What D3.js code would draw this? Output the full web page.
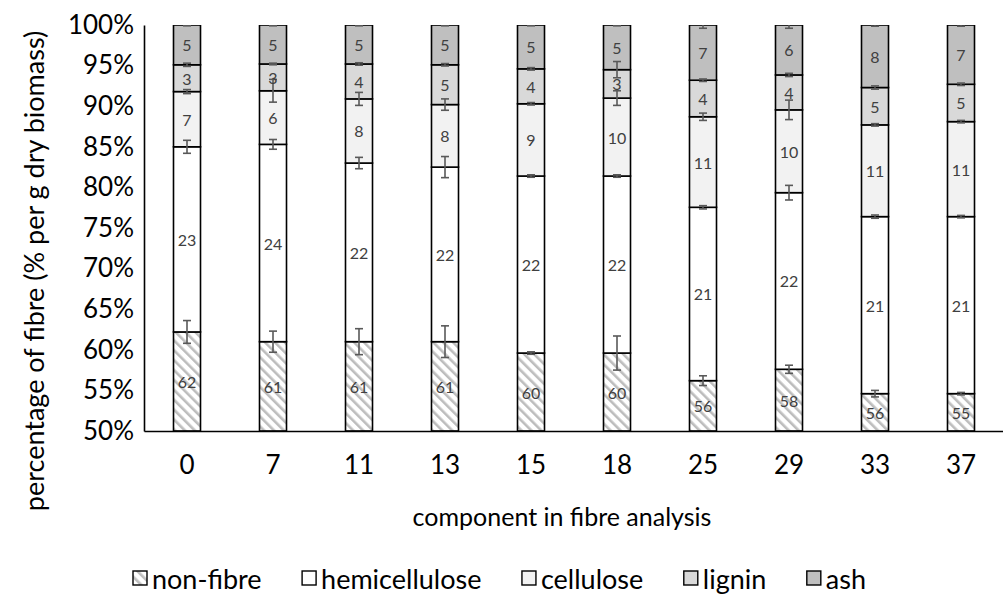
<!DOCTYPE html>
<html>
<head>
<meta charset="utf-8">
<script src="https://cdn.jsdelivr.net/npm/d3@7"></script>
<style>
  html, body { margin: 0; padding: 0; background: #fff; }
  svg { display: block; font-family: Lato, "Open Sans", sans-serif; }
</style>
</head>
<body>
<svg id="chart" width="1003" height="596"></svg>
<script>
// ---- data ----
const categories = ["0", "7", "11", "13", "15", "18", "25", "29", "33", "37"];
const seriesNames = ["non-fibre", "hemicellulose", "cellulose", "lignin", "ash"];

const nonFibre      = [62.2, 61.0, 61.0, 61.0, 59.6, 59.6, 56.2, 57.6, 54.6, 54.6];
const hemicellulose = [22.8, 24.3, 22.0, 21.5, 21.8, 21.8, 21.35, 21.75, 21.8, 21.8];
const cellulose     = [6.8, 6.6, 7.9, 7.7, 8.9, 9.6, 11.15, 10.2, 11.3, 11.7];
const lignin        = [3.3, 3.3, 4.3, 4.9, 4.3, 3.5, 4.5, 4.3, 4.6, 4.6];
const ash           = [4.9, 4.8, 4.8, 4.9, 5.4, 5.5, 6.8, 6.15, 7.7, 7.3];

const nonFibreLabels      = ["62", "61", "61", "61", "60", "60", "56", "58", "56", "55"];
const hemicelluloseLabels = ["23", "24", "22", "22", "22", "22", "21", "22", "21", "21"];
const celluloseLabels     = ["7", "6", "8", "8", "9", "10", "11", "10", "11", "11"];
const ligninLabels        = ["3", "3", "4", "5", "4", "3", "4", "4", "5", "5"];
const ashLabels           = ["5", "5", "5", "5", "5", "5", "7", "6", "8", "7"];

const nonFibreErr      = [1.4, 1.3, 1.6, 1.95, 0.15, 2.1, 0.6, 0.5, 0.4, 0.15];
const hemicelluloseErr = [0.8, 0.6, 0.7, 1.3, 0.15, 0.15, 0.2, 0.9, 0.2, 0.15];
const celluloseErr     = [0.25, 1.4, 0.8, 0.7, 0.15, 0.9, 0.45, 1.2, 0.15, 0.15];
const ligninErr        = [0.2, 0.1, 0.15, 0.15, 0.15, 1.0, 0.15, 0.2, 0.2, 0.15];
const ashErr           = [0.1, 0.1, 0.1, 0.1, 0.1, 0.1, 0.4, 0.4, 0.15, 0.15];

const yTicks = [50, 55, 60, 65, 70, 75, 80, 85, 90, 95, 100];
const yTitle = "percentage of fibre (% per g dry biomass)";
const xTitle = "component in fibre analysis";

// ---- build table ----
const valuesBySeries = [nonFibre, hemicellulose, cellulose, lignin, ash];
const labelsBySeries = [nonFibreLabels, hemicelluloseLabels, celluloseLabels, ligninLabels, ashLabels];
const errBySeries = [nonFibreErr, hemicelluloseErr, celluloseErr, ligninErr, ashErr];
const fills = ["url(#hatch)", "#ffffff", "#f2f2f2", "#d9d9d9", "#bfbfbf"];

const rows = categories.map((c, i) => {
  const r = { cat: c };
  seriesNames.forEach((s, k) => { r[s] = valuesBySeries[k][i]; });
  return r;
});
const stacked = d3.stack().keys(seriesNames)(rows);

// ---- layout ----
const svg = d3.select("#chart");
const plotLeft = 144, plotRight = 1004, plotTop = 25, plotBottom = 431;
const axisFont = 26;

const x = d3.scaleBand().domain(categories).range([plotLeft, plotRight])
  .paddingInner(0.686).paddingOuter(0.343);
const y = d3.scaleLinear().domain([50, 100]).range([plotBottom, plotTop]);

const defs = svg.append("defs");
const pat = defs.append("pattern").attr("id", "hatch")
  .attr("patternUnits", "userSpaceOnUse").attr("width", 7).attr("height", 7)
  .attr("patternTransform", "rotate(-45)");
pat.append("rect").attr("width", 7).attr("height", 7).attr("fill", "#ffffff");
pat.append("rect").attr("x", 0).attr("y", 0).attr("width", 2.6).attr("height", 7).attr("fill", "#bdbdbd");

defs.append("clipPath").attr("id", "plotclip").append("rect")
  .attr("x", plotLeft - 5).attr("y", plotTop).attr("width", plotRight - plotLeft + 10).attr("height", plotBottom - plotTop);

const plot = svg.append("g").attr("clip-path", "url(#plotclip)");

// bars
stacked.forEach((layer, k) => {
  plot.append("g").selectAll("rect").data(layer).join("rect")
    .attr("x", d => x(d.data.cat))
    .attr("width", x.bandwidth())
    .attr("y", d => y(Math.max(d[1], 50)))
    .attr("height", d => y(Math.max(d[0], 50)) - y(Math.max(d[1], 50)))
    .attr("fill", fills[k])
    .attr("stroke", "#000")
    .attr("stroke-width", 1.6);
});

// error bars
const cap = 4;
stacked.forEach((layer, k) => {
  const g = plot.append("g").attr("stroke", "#595959").attr("stroke-width", 1.6).attr("fill", "none");
  layer.forEach((d, i) => {
    const cx = x(d.data.cat) + x.bandwidth() / 2;
    const e = errBySeries[k][i];
    const y1 = y(d[1] + e), y2 = y(d[1] - e);
    g.append("line").attr("x1", cx).attr("x2", cx).attr("y1", y1).attr("y2", y2);
    g.append("line").attr("x1", cx - cap).attr("x2", cx + cap).attr("y1", y1).attr("y2", y1);
    g.append("line").attr("x1", cx - cap).attr("x2", cx + cap).attr("y1", y2).attr("y2", y2);
  });
});

// data labels
stacked.forEach((layer, k) => {
  svg.append("g").selectAll("text").data(layer).join("text")
    .attr("x", d => x(d.data.cat) + x.bandwidth() / 2)
    .attr("y", d => (y(Math.max(d[0], 50)) + y(d[1])) / 2)
    .attr("text-anchor", "middle")
    .attr("dominant-baseline", "central")
    .attr("font-size", 16)
    .attr("fill", "#404040")
    .text((d, i) => labelsBySeries[k][i]);
});

// axes
const yAxis = d3.axisLeft(y).tickValues(yTicks).tickSize(0).tickPadding(10)
  .tickFormat(d => d + "%");
const gy = svg.append("g").attr("transform", `translate(${plotLeft},0)`).call(yAxis);
gy.select(".domain").attr("stroke", "#000").attr("stroke-width", 1.6);
gy.selectAll("text").attr("font-size", axisFont).attr("fill", "#000").attr("font-family", "Lato, sans-serif");

const xAxis = d3.axisBottom(x).tickSize(0).tickPadding(25);
const gx = svg.append("g").attr("transform", `translate(0,${plotBottom})`).call(xAxis);
gx.select(".domain").attr("stroke", "#000").attr("stroke-width", 1.6);
gx.selectAll("text").attr("font-size", axisFont).attr("fill", "#000").attr("font-family", "Lato, sans-serif");

// titles
svg.append("text")
  .attr("transform", `translate(33,271) rotate(-90)`)
  .attr("text-anchor", "middle").attr("dominant-baseline", "central")
  .attr("font-size", 27).attr("fill", "#000")
  .text(yTitle);

svg.append("text")
  .attr("x", 562).attr("y", 516)
  .attr("text-anchor", "middle").attr("dominant-baseline", "central")
  .attr("font-size", 25).attr("fill", "#000")
  .text(xTitle);

// legend (spread across the same span as the reference)
const legend = svg.append("g");
const legendStart = 133, legendEnd = 866, ly = 578, sw = 14, swGap = 5;
const items = seriesNames.map((s, k) => {
  const rect = legend.append("rect").attr("y", ly - 7).attr("width", sw).attr("height", sw)
    .attr("fill", fills[k]).attr("stroke", "#000").attr("stroke-width", 1.4);
  const t = legend.append("text").attr("y", ly)
    .attr("dominant-baseline", "central").attr("font-size", 27).attr("fill", "#000").text(s);
  return { rect, t, w: t.node().getComputedTextLength() };
});
const used = d3.sum(items, d => sw + swGap + d.w);
const gap = (legendEnd - legendStart - used) / (items.length - 1);
let lx = legendStart;
items.forEach(d => {
  d.rect.attr("x", lx);
  d.t.attr("x", lx + sw + swGap);
  lx += sw + swGap + d.w + gap;
});
</script>
</body>
</html>
